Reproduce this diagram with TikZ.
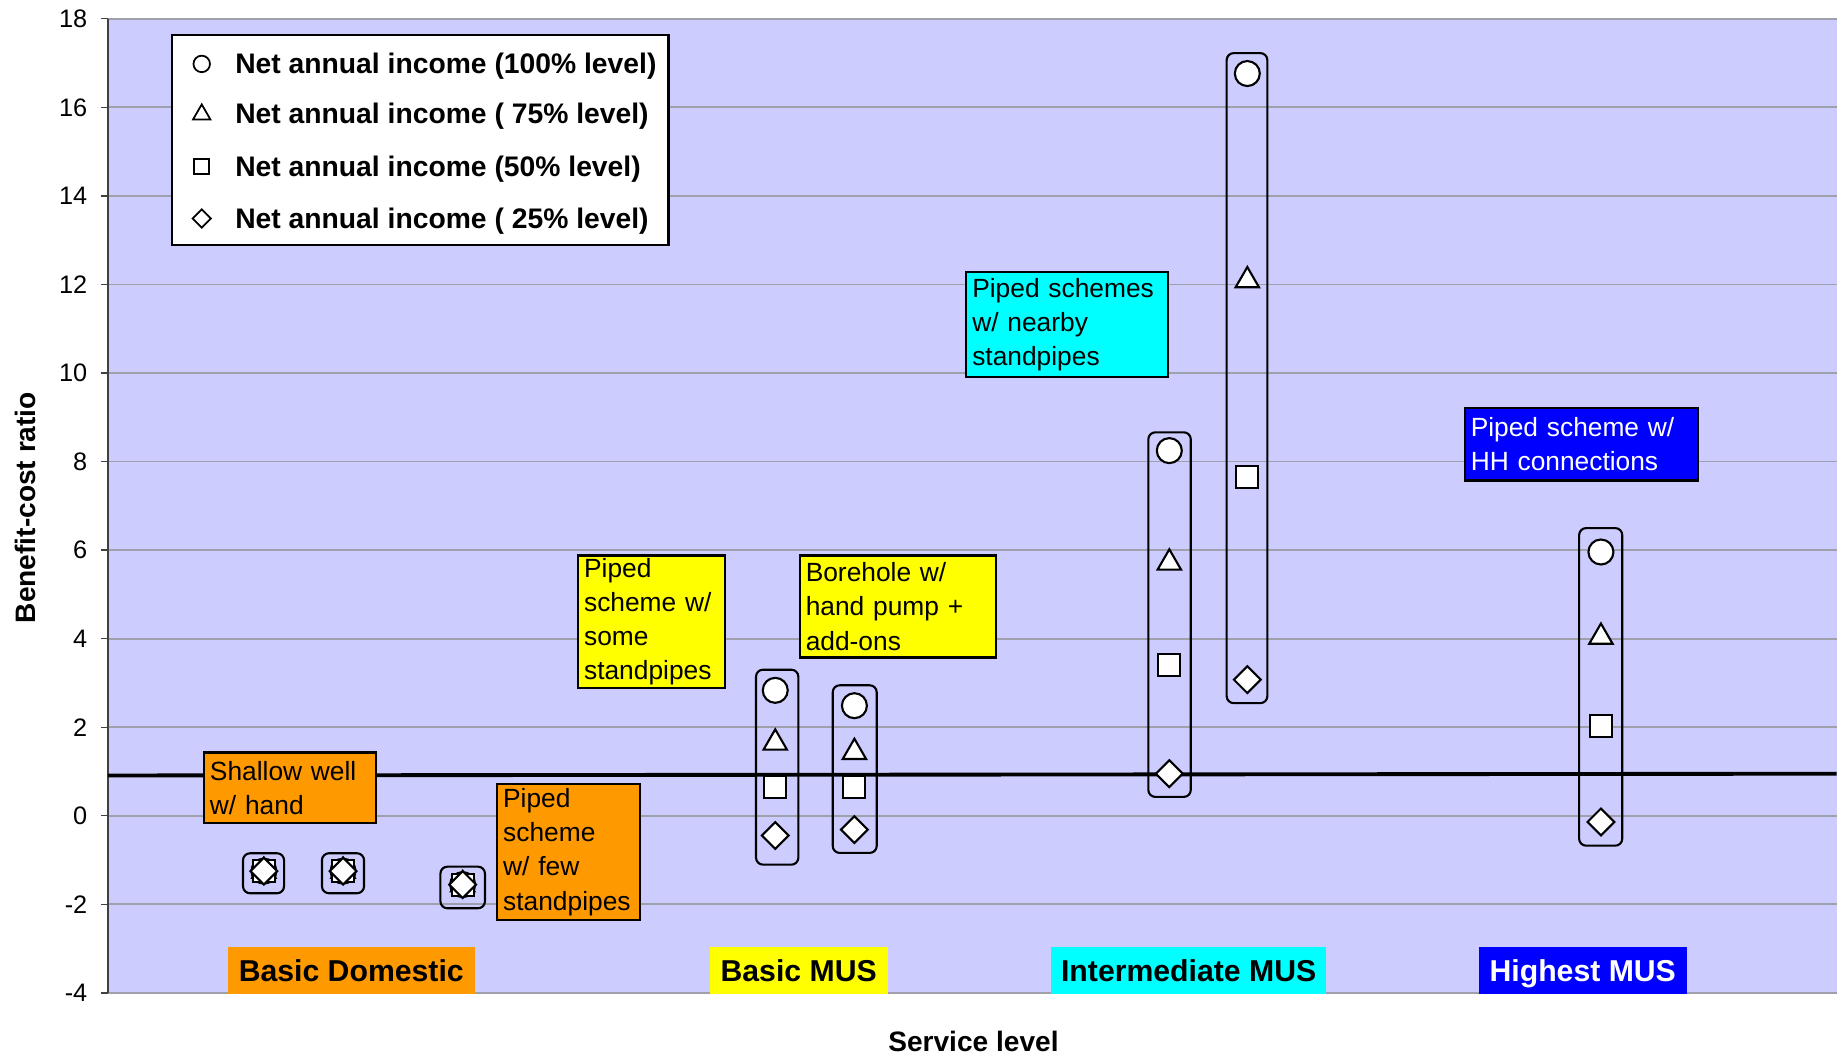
\documentclass[tikz,border=0pt]{standalone}
\usepackage{fontspec}
\setmainfont{Liberation Sans}
\usetikzlibrary{shapes.geometric}
\definecolor{plotbg}{RGB}{204,204,255}
\definecolor{gridgray}{RGB}{160,160,172}
\definecolor{domorange}{RGB}{255,153,0}
\definecolor{musyellow}{RGB}{255,255,0}
\definecolor{midcyan}{RGB}{0,255,255}
\definecolor{topblue}{RGB}{0,0,255}

\begin{document}
\begin{tikzpicture}[x=0.011728cm, y=0.443cm,
    gridline/.style={draw=gridgray, line width=0.5pt},
    ticklabel/.style={anchor=east, inner sep=0pt, font=\fontsize{7.2}{8}\selectfont},
    mcirc/.style={circle, draw, fill=white, line width=0.6pt, minimum size=0.25cm, inner sep=0pt},
    mtri/.style={regular polygon, regular polygon sides=3, draw, fill=white, line width=0.6pt, minimum size=0.27cm, inner sep=0pt},
    msq/.style={rectangle, draw, fill=white, line width=0.6pt, minimum size=0.22cm, inner sep=0pt},
    mdia/.style={diamond, draw, fill=white, line width=0.6pt, minimum size=0.277cm, inner sep=0pt},
    grp/.style={draw, line width=0.6pt, rounded corners=0.07cm},
    note/.style={draw, line width=0.6pt, anchor=north west, align=left, inner xsep=0.06cm, inner ysep=0.02cm, font=\fontsize{7.5}{9.7}\selectfont},
    cat/.style={inner sep=0pt, minimum height=0.469cm, text height=6.2pt, text depth=0pt, font=\bfseries\fontsize{8.6}{10}\selectfont},
    legtext/.style={anchor=west, inner sep=0pt, font=\bfseries\fontsize{8.05}{10}\selectfont},
    axtitle/.style={inner sep=0pt, font=\bfseries\fontsize{8}{10}\selectfont}]

        \useasboundingbox[fill=white] (0,-5.430) rectangle (1568,18.424);
        \fill[plotbg] (92,-4) rectangle (1566,18);
        \foreach \v in {-4,-2,...,18} {
            \draw[gridline] (92,\v) -- (1566,\v);
            \draw[black!75, line width=0.4pt] (86,\v) -- (92,\v);
            \node[ticklabel] (tick\v) at (75,\v) {\v};
        }
        \draw[black!75, line width=0.4pt] (92,-4) -- (92,18);

        \draw[grp] (207.2,-0.847) rectangle (242.2,-1.75);
        \draw[grp] (274.5,-0.847) rectangle (310.4,-1.75);
        \draw[grp] (375.5,-1.149) rectangle (413.5,-2.089);
        \draw[grp] (644.6,3.299) rectangle (680.7,-1.104);
        \draw[grp] (710,2.947) rectangle (747.5,-0.839);
        \draw[grp] (979.1,8.66) rectangle (1015.3,0.426);
        \draw[grp] (1045.9,17.224) rectangle (1080.6,2.544);
        \draw[grp] (1346.4,6.497) rectangle (1383.2,-0.675);

        \coordinate (breakl) at (92,0.91);
        \coordinate (breakr) at (1566,0.95);
        \draw[line width=1.1pt] (breakl) -- (breakr);

        \node[mcirc] (g1c) at (225,-1.25) {};
        \node[mtri] (g1t) at (225,-1.25) {};
        \node[msq] (g1s) at (225,-1.25) {};
        \node[mdia] (g1d) at (225,-1.25) {};
        \node[mcirc] (g2c) at (292.5,-1.25) {};
        \node[mtri] (g2t) at (292.5,-1.25) {};
        \node[msq] (g2s) at (292.5,-1.25) {};
        \node[mdia] (g2d) at (292.5,-1.25) {};
        \node[mcirc] (g3c) at (394.5,-1.554) {};
        \node[mtri] (g3t) at (394.5,-1.554) {};
        \node[msq] (g3s) at (394.5,-1.554) {};
        \node[mdia] (g3d) at (394.5,-1.554) {};

        \node[mcirc] (g4c) at (661,2.833) {};
        \node[mtri] (g4t) at (661,1.647) {};
        \node[msq] (g4s) at (661,0.646) {};
        \node[mdia] (g4d) at (661,-0.447) {};
        \node[mcirc] (g5c) at (728.5,2.486) {};
        \node[mtri] (g5t) at (728.5,1.435) {};
        \node[msq] (g5s) at (728.5,0.646) {};
        \node[mdia] (g5d) at (728.5,-0.312) {};

        \node[mcirc] (g6c) at (997,8.247) {};
        \node[mtri] (g6t) at (997,5.713) {};
        \node[msq] (g6s) at (997,3.402) {};
        \node[mdia] (g6d) at (997,0.95) {};
        \node[mcirc] (g7c) at (1063.5,16.763) {};
        \node[mtri] (g7t) at (1063.5,12.088) {};
        \node[msq] (g7s) at (1063.5,7.659) {};
        \node[mdia] (g7d) at (1063.5,3.074) {};

        \node[mcirc] (g8c) at (1365,5.957) {};
        \node[mtri] (g8t) at (1365,4.037) {};
        \node[msq] (g8s) at (1365,2.02) {};
        \node[mdia] (g8d) at (1365,-0.14) {};

        \node[note, fill=domorange, text width=1.604cm, minimum height=0.704cm] (shallow) at (173,1.453) {Shallow well\\w/ hand};
        \node[note, fill=domorange, text width=1.311cm, minimum height=1.360cm] (fewpipes) at (423,0.739) {Piped\\scheme\\w/ few\\standpipes};
        \node[note, fill=musyellow, text width=1.346cm, minimum height=1.325cm] (somepipes) at (492,5.901) {Piped\\scheme w/\\some\\standpipes};
        \node[note, fill=musyellow, text width=1.839cm, minimum height=1.020cm] (borehole) at (681,5.901) {Borehole w/\\hand pump +\\add-ons};
        \node[note, fill=midcyan, text width=1.897cm, minimum height=1.056cm] (nearby) at (823,12.308) {Piped schemes\\w/ nearby\\standpipes};
        \node[note, fill=topblue, text=white, text width=2.214cm, minimum height=0.727cm] (hhconn) at (1248,9.237) {Piped scheme w/\\HH connections};

        \draw[fill=white, line width=0.6pt] (147,17.63) rectangle (570,12.89);
        \node[mcirc, minimum size=0.165cm, line width=0.5pt] (legc) at (172,16.98) {};
        \node[mtri, minimum size=0.2cm, line width=0.5pt] (legt) at (172,15.84) {};
        \node[msq, minimum size=0.15cm, line width=0.5pt] (legs) at (172,14.66) {};
        \node[mdia, minimum size=0.19cm, line width=0.5pt] (legd) at (172,13.49) {};
        \node[legtext] (legc text) at (200,16.92) {Net annual income (100\% level)};
        \node[legtext] (legt text) at (200,15.80) {Net annual income ( 75\% level)};
        \node[legtext] (legs text) at (200,14.60) {Net annual income (50\% level)};
        \node[legtext] (legd text) at (200,13.43) {Net annual income ( 25\% level)};

        \node[cat, fill=domorange, minimum width=2.475cm] (basicdom) at (299.5,-3.5) {Basic Domestic};
        \node[cat, fill=musyellow, minimum width=1.783cm] (basicmus) at (681,-3.5) {Basic MUS};
        \node[cat, fill=midcyan, minimum width=2.756cm] (midmus) at (1013.5,-3.5) {Intermediate MUS};
        \node[cat, fill=topblue, text=white, minimum width=2.076cm] (topmus) at (1349.5,-3.5) {Highest MUS};

        \node[axtitle, rotate=90] (ylabel) at (22,6.96) {Benefit-cost ratio};
        \node[axtitle] (xlabel) at (830,-5.093) {Service level};
      \end{tikzpicture}
\end{document}
